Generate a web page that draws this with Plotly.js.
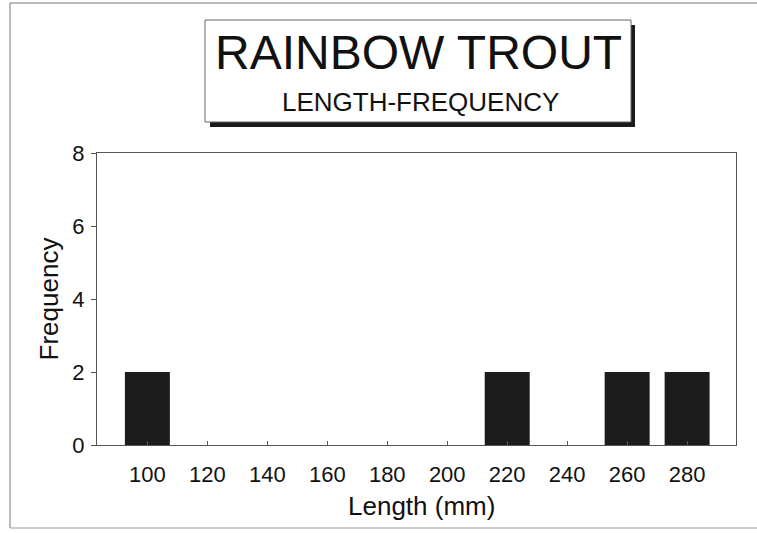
<!DOCTYPE html>
<html>
<head>
<meta charset="utf-8">
<script src="https://cdn.plot.ly/plotly-3.0.1.min.js"></script>
<style>html,body{margin:0;padding:0;background:#fff;}#chart{width:757px;height:533px;}</style>
</head>
<body>
<div id="chart"></div>
<script>
// Data
const lengthBins = [100, 120, 140, 160, 180, 200, 220, 240, 260, 280];
const frequency  = [2, 0, 0, 0, 0, 0, 2, 0, 2, 2];
const tickLabels = ['100','120','140','160','180','200','220','240','260','280'];
const yTicks = [0, 2, 4, 6, 8];
const chartTitle = 'RAINBOW TROUT';
const chartSubtitle = 'LENGTH-FREQUENCY';
const xTitle = 'Length (mm)';
const yTitle = 'Frequency';

// Layout geometry (pixels)
const W = 757, H = 533;
const L = 97, R = 736, T = 153, B = 445;
const px = x => (x - L) / (R - L);
const py = y => (B - y) / (B - T);
const FONT = 'Liberation Sans, Arial, sans-serif';
const INK = '#111';

const trace = {
  type: 'bar',
  x: lengthBins,
  y: frequency,
  width: 15,
  marker: {color: '#1c1c1c', line: {width: 0}},
  hoverinfo: 'x+y'
};

const layout = {
  width: W, height: H,
  margin: {l: L, r: W - R, t: T, b: H - B, pad: 0},
  paper_bgcolor: '#fff', plot_bgcolor: '#fff',
  showlegend: false,
  font: {family: FONT, color: INK},
  xaxis: {
    range: [83.2, 296.3],
    tickvals: lengthBins, ticktext: tickLabels,
    ticks: 'inside', ticklen: 4, tickcolor: '#555', tickwidth: 1,
    ticklabelstandoff: 10,
    showgrid: false, zeroline: false,
    showline: true, linecolor: '#555', linewidth: 1, mirror: true,
    tickfont: {size: 22, family: FONT, color: INK}
  },
  yaxis: {
    range: [0, 8],
    tickvals: yTicks,
    ticks: 'outside', ticklen: 5, tickcolor: '#555', tickwidth: 1,
    ticklabelstandoff: 2,
    showgrid: false, zeroline: false,
    showline: true, linecolor: '#555', linewidth: 1, mirror: true,
    tickfont: {size: 22, family: FONT, color: INK},
    title: {text: yTitle, font: {size: 26, family: FONT, color: INK}, standoff: 6}
  },
  shapes: [
    // outer frame
    {type: 'line', xref: 'paper', yref: 'paper', x0: px(10), x1: px(760), y0: py(3), y1: py(3), line: {color: '#777', width: 1}},
    {type: 'line', xref: 'paper', yref: 'paper', x0: px(10), x1: px(10), y0: py(3), y1: py(528), line: {color: '#777', width: 1}},
    {type: 'line', xref: 'paper', yref: 'paper', x0: px(10), x1: px(760), y0: py(528), y1: py(528), line: {color: '#999', width: 1}},
    // title box shadow
    {type: 'rect', xref: 'paper', yref: 'paper', x0: px(210), x1: px(635), y0: py(127), y1: py(25), fillcolor: '#1a1a1a', line: {width: 0}, layer: 'above'},
    // title box
    {type: 'rect', xref: 'paper', yref: 'paper', x0: px(205), x1: px(631), y0: py(122), y1: py(20), fillcolor: '#fff', line: {color: '#666', width: 1}, layer: 'above'}
  ],
  annotations: [
    {text: chartTitle, xref: 'paper', yref: 'paper', x: px(419), y: py(52), xanchor: 'center', yanchor: 'middle', showarrow: false, font: {size: 48, family: FONT, color: INK}},
    {text: chartSubtitle, xref: 'paper', yref: 'paper', x: px(420), y: py(102), xanchor: 'center', yanchor: 'middle', showarrow: false, font: {size: 26, family: FONT, color: INK}},
    {text: xTitle, xref: 'paper', yref: 'paper', x: px(421), y: py(506), xanchor: 'center', yanchor: 'middle', showarrow: false, font: {size: 26, family: FONT, color: INK}}
  ]
};

Plotly.newPlot('chart', [trace], layout, {displayModeBar: false, staticPlot: true});
</script>
</body>
</html>
